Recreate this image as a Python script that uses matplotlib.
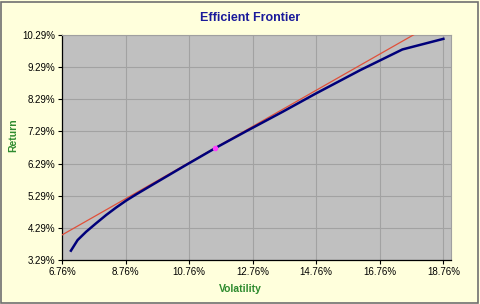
import numpy as np
import matplotlib.pyplot as plt
from matplotlib.patches import Rectangle
from matplotlib.ticker import FuncFormatter

plt.rcParams['font.family'] = ['Liberation Sans', 'DejaVu Sans']

# efficient frontier (volatility %, return %)
frontier_vol = [7.04, 7.25, 7.52, 7.83, 8.15, 8.46, 8.78, 9.09, 9.62, 10.60, 11.58, 12.60,
                13.70, 14.73, 16.15, 17.47, 18.76]
frontier_ret = [3.58, 3.91, 4.17, 4.43, 4.69, 4.92, 5.14, 5.33, 5.64, 6.21, 6.77, 7.32,
                7.90, 8.46, 9.20, 9.84, 10.17]

# capital market line end points
cml_vol = [6.76, 18.40]
cml_ret = [4.07, 10.62]

# tangency portfolio
tan_vol = [11.58]
tan_ret = [6.77]

x_ticks = [6.76, 8.76, 10.76, 12.76, 14.76, 16.76, 18.76]
y_ticks = [3.29, 4.29, 5.29, 6.29, 7.29, 8.29, 9.29, 10.29]

fig = plt.figure(figsize=(4.8, 3.04), dpi=100)
fig.patch.set_facecolor('#ffffdc')
fig.patches.append(Rectangle((0.003, 0.004), 0.993, 0.99, transform=fig.transFigure,
                             fill=False, edgecolor='#707070', linewidth=1.2))

ax = fig.add_axes([0.1292, 0.1447, 0.8104, 0.7402])
ax.set_facecolor('#c0c0c0')

ax.plot(cml_vol, cml_ret, color='#e0503a', linewidth=0.9, zorder=3)
ax.plot(frontier_vol, frontier_ret, color='#00007a', linewidth=1.8, zorder=4)
ax.plot(tan_vol, tan_ret, 'o', color='#ff40ff', markersize=3, zorder=5)

ax.set_xlim(6.76, 19.0)
ax.set_ylim(3.29, 10.29)
ax.set_xticks(x_ticks)
ax.set_yticks(y_ticks)
ax.xaxis.set_major_formatter(FuncFormatter(lambda v, p: f"{v:.2f}%"))
ax.yaxis.set_major_formatter(FuncFormatter(lambda v, p: f"{v:.2f}%"))
ax.tick_params(labelsize=7, length=3, width=0.8, colors='black', direction='out', pad=2)
ax.grid(True, color='#a2a2a2', linewidth=0.8)
ax.set_axisbelow(True)

for s in ['left', 'bottom']:
    ax.spines[s].set_color('black')
    ax.spines[s].set_linewidth(0.9)
for s in ['top', 'right']:
    ax.spines[s].set_color('#a0a0a0')
    ax.spines[s].set_linewidth(0.8)

fig.text(0.52, 0.94, 'Efficient Frontier', ha='center', va='center',
         fontsize=9, fontweight='bold', color='#1a1a9a')
fig.text(0.50, 0.048, 'Volatility', ha='center', va='center',
         fontsize=7.5, fontweight='bold', color='#2e8b2e')
fig.text(0.028, 0.555, 'Return', ha='center', va='center', rotation=90,
         fontsize=7.5, fontweight='bold', color='#2e8b2e')

fig.savefig('out.png', dpi=100, facecolor=fig.get_facecolor())
